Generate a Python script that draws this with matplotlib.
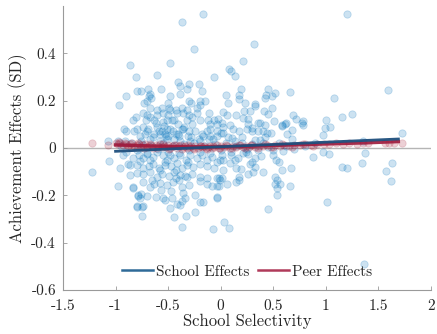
import matplotlib
matplotlib.use("Agg")
import matplotlib.pyplot as plt
from matplotlib.lines import Line2D

# ---- data ----
school_x = [
 -0.86,-0.48,-0.81,-0.61,-0.06,-0.41,-0.39,-0.30,-0.21,-0.90,-0.80,-0.69,-0.67,-0.68,-0.57,-0.48,-0.39,-0.32,-0.18,-0.30,
 -0.28,-0.20,-0.15,-0.97,-0.73,-0.70,-0.66,-0.67,-0.61,-0.56,-0.50,-0.48,-0.43,-0.37,-0.32,-0.23,-0.20,-0.74,-0.70,-0.67,
 -0.61,-0.55,-0.50,-0.42,-0.36,-0.30,-0.23,-0.11,-0.12,-0.06,-0.81,-0.83,-0.71,-0.63,-0.55,-0.51,-0.44,-0.41,-0.32,-0.27,
 -0.20,-0.10,-0.04,-0.92,-0.90,-0.82,-0.80,-0.74,-0.69,-0.61,-0.59,-0.56,-0.51,-0.48,-0.45,-0.37,-0.36,-0.30,-0.24,-0.18,
 -0.13,-0.10,-0.04,-0.72,-0.70,-0.63,-0.58,-0.53,-0.50,-0.43,-0.40,-0.31,-0.21,-0.17,-0.10,-0.07,-1.07,-0.98,-0.91,-0.77,
 -0.76,-0.67,-0.58,-0.51,-0.44,-0.39,-0.29,-0.20,-0.11,-0.04,-0.17,-0.37,-0.25,-0.76,
 -1.06,-0.96,-0.88,-0.86,-0.93,-0.83,-0.78,-0.77,-0.74,-0.70,-0.67,-0.64,-0.61,-0.55,-0.51,-0.48,-0.44,-0.39,-0.33,-0.29,
 -0.23,-0.18,-0.13,-0.08,-0.04,-0.80,-0.74,-0.68,-0.64,-0.59,-0.53,-0.47,-0.43,-0.37,-0.32,-0.26,-0.20,-0.13,-0.06,-0.86,
 -0.80,-0.74,-0.67,-0.61,-0.56,-0.49,-0.43,-0.39,-0.32,-0.27,-0.20,-0.13,-0.04,-0.98,-0.83,-0.74,-0.67,-0.63,-0.58,-0.51,
 -0.45,-0.40,-0.37,-0.30,-0.20,-0.13,-0.08,-0.01,-0.79,-0.76,-0.70,-0.62,-0.55,-0.53,-0.46,-0.42,-0.37,-0.34,-0.24,-0.20,
 -0.17,-0.04,-0.80,-0.74,-0.48,-0.39,-0.24,-0.75,-0.44,-0.33,-0.37,-0.07,-1.22,-0.83,-0.79,-0.77,-0.80,-0.75,
 0.21,0.08,0.10,0.14,0.19,0.32,0.05,0.17,0.17,0.07,0.23,0.33,0.33,0.43,0.42,0.45,0.52,0.66,1.08,0.22,
 0.28,0.41,0.49,0.02,-0.03,0.06,0.15,0.21,0.26,0.26,0.30,0.35,0.37,0.42,0.45,0.51,0.58,0.62,0.69,0.72,
 0.78,0.78,1.00,0.99,1.04,0.97,0.01,0.02,0.09,0.12,0.17,0.00,0.02,0.07,0.14,0.20,0.25,0.30,0.35,0.40,
 0.44,0.33,0.37,0.42,0.48,0.63,0.68,0.11,1.20,1.59,1.15,1.25,1.72,1.35,1.37,1.34,1.63,1.15,1.20,0.68,
 0.77,0.58,0.61,0.49,
 0.01,-0.01,0.02,0.09,0.14,0.16,0.15,0.19,0.17,0.15,0.17,0.02,-0.02,0.01,0.06,-0.04,-0.02,-0.04,0.24,0.26,
 0.21,0.33,0.28,0.33,0.31,0.26,0.40,0.50,0.53,0.59,0.55,0.58,0.67,0.52,0.54,0.52,0.56,0.54,0.66,0.54,
 0.45,0.88,0.97,1.03,1.01,0.03,0.08,0.10,0.30,0.38,1.57,1.62,1.36,
 -0.95,-0.90,-0.85,-0.80,-0.75,-0.70,-0.65,-0.60,-0.55,-0.50,-0.45,-0.40,-0.35,-0.30,-0.25,-0.20,-0.15,-0.10,-0.05,0.00,
 0.05,0.10,0.15,0.20,0.25,0.30,0.35,0.40,0.45,0.50,0.55,0.62,0.70,0.80,0.90,
 -0.62,-0.54,-0.46,-0.35,-0.27,-0.58,-0.44,-0.34,-0.64,-0.52,-0.41,-0.28,-0.57,-0.47,-0.36,-0.65,-0.53,-0.42,-0.31,-0.49,
]
school_y = [
 0.35,0.36,0.30,0.31,0.30,0.28,0.26,0.27,0.27,0.22,0.24,0.25,0.23,0.22,0.25,0.22,0.23,0.25,0.24,0.20,
 0.19,0.20,0.20,0.18,0.19,0.20,0.21,0.17,0.16,0.17,0.19,0.16,0.16,0.17,0.16,0.17,0.18,0.15,0.14,0.13,
 0.14,0.15,0.14,0.15,0.15,0.14,0.15,0.15,0.12,0.12,0.13,0.12,0.12,0.12,0.11,0.12,0.12,0.10,0.12,0.13,
 0.12,0.10,0.10,0.08,0.07,0.07,0.08,0.09,0.08,0.09,0.07,0.07,0.08,0.08,0.07,0.08,0.08,0.07,0.07,0.06,
 0.07,0.08,0.07,0.06,0.07,0.06,0.06,0.06,0.05,0.06,0.05,0.05,0.04,0.05,0.05,0.04,0.03,0.03,0.03,0.05,
 0.03,0.04,0.03,0.04,0.04,0.03,0.03,0.03,0.04,0.05,0.566,0.532,0.418,0.241,
 -0.055,-0.086,-0.069,-0.072,-0.030,-0.044,-0.030,-0.055,-0.041,-0.027,-0.052,-0.038,-0.015,-0.030,-0.049,-0.030,-0.044,-0.030,-0.049,-0.030,
 -0.044,-0.030,-0.052,-0.038,-0.058,-0.072,-0.086,-0.077,-0.066,-0.086,-0.072,-0.077,-0.094,-0.086,-0.072,-0.080,-0.066,-0.075,-0.086,-0.114,
 -0.106,-0.108,-0.100,-0.123,-0.108,-0.117,-0.128,-0.114,-0.123,-0.111,-0.123,-0.128,-0.128,-0.159,-0.165,-0.142,-0.165,-0.151,-0.148,-0.156,
 -0.142,-0.137,-0.165,-0.156,-0.139,-0.151,-0.162,-0.134,-0.199,-0.196,-0.204,-0.207,-0.213,-0.221,-0.213,-0.235,-0.224,-0.213,-0.199,-0.227,
 -0.230,-0.207,-0.246,-0.246,-0.255,-0.241,-0.269,-0.289,-0.292,-0.289,-0.334,-0.342,-0.100,-0.168,-0.201,-0.213,-0.249,-0.249,
 0.366,0.332,0.327,0.304,0.248,0.439,0.222,0.225,0.206,0.189,0.192,0.186,0.177,0.225,0.211,0.251,0.234,0.237,0.211,0.158,
 0.155,0.158,0.169,0.152,0.124,0.141,0.141,0.127,0.124,0.101,0.085,0.107,0.104,0.096,0.144,0.113,0.099,0.104,0.138,0.121,
 0.115,0.096,0.118,0.085,0.087,0.056,0.107,0.090,0.096,0.082,0.070,0.065,0.062,0.048,0.031,0.045,0.082,0.070,0.070,0.070,
 0.065,0.034,0.034,0.048,0.065,0.059,0.037,0.042,0.566,0.245,0.132,0.144,0.062,0.031,-0.020,-0.065,-0.065,-0.079,-0.085,0.076,
 0.104,0.093,0.101,0.220,
 -0.030,-0.052,-0.049,-0.063,-0.052,-0.044,-0.086,-0.089,-0.123,-0.142,-0.134,-0.094,-0.128,-0.128,-0.154,-0.162,-0.162,-0.210,-0.018,-0.024,
 -0.021,-0.044,-0.069,-0.080,-0.100,-0.111,-0.100,-0.030,-0.052,-0.013,-0.058,-0.092,-0.086,-0.123,-0.134,-0.154,-0.151,-0.167,-0.162,-0.199,
 -0.258,-0.038,-0.015,-0.027,-0.227,-0.314,-0.337,-0.030,-0.058,-0.032,-0.097,-0.140,-0.489,
 0.010,-0.015,0.020,-0.010,0.015,-0.020,0.010,-0.005,0.020,-0.015,0.010,-0.020,0.015,-0.010,0.020,-0.015,0.010,-0.020,0.015,-0.010,
 0.020,-0.015,0.010,0.020,-0.005,0.015,-0.010,0.020,0.005,-0.010,0.020,0.010,-0.005,0.010,0.020,
 0.105,0.092,0.118,0.088,0.101,-0.095,-0.102,-0.118,0.045,0.052,0.061,0.047,-0.176,-0.182,-0.190,-0.135,-0.060,-0.064,-0.058,0.170,
]

peer_x = [-1.22,-1.07,-1.00,-0.98,-0.96,-0.93,-0.90,-0.88,-0.86,-0.84,-0.82,-0.80,-0.78,-0.76,-0.74,-0.72,-0.70,-0.68,-0.66,-0.64,
          -0.62,-0.60,-0.58,-0.56,-0.54,-0.52,-0.50,-0.48,-0.46,-0.44,-0.42,-0.40,-0.38,-0.36,-0.34,-0.32,-0.30,-0.28,-0.26,-0.24,
          -0.22,-0.20,-0.18,-0.16,-0.14,-0.12,-0.10,-0.08,-0.06,-0.04,-0.02,0.00,0.03,0.06,0.09,0.12,0.15,0.18,0.21,0.24,
          0.27,0.30,0.33,0.36,0.40,0.44,0.48,0.52,0.56,0.60,0.65,0.70,0.75,0.80,0.86,0.92,0.98,1.03,1.10,1.16,
          1.22,1.30,1.35,1.40,1.56,1.60,1.65,1.72,
          -0.97,-0.91,-0.85,-0.79,-0.73,-0.67,-0.61,-0.55,-0.49,-0.43,-0.37,-0.31,-0.25,-0.19,-0.13,-0.07,-0.01,0.05,0.11,0.17,
          0.23,0.29,0.35,0.42,0.50,0.58,0.68,0.78,0.88]
peer_y = [0.020,0.014,0.020,0.015,0.022,0.012,0.018,0.010,0.016,0.020,0.008,0.014,0.018,0.006,0.012,0.016,0.004,0.010,0.014,0.002,
          0.012,0.008,0.015,0.003,0.010,0.006,0.013,0.002,0.008,0.011,0.000,0.007,0.012,0.003,0.009,-0.002,0.006,0.010,0.001,0.007,
          -0.001,0.008,0.003,0.010,-0.002,0.006,0.009,0.001,0.005,0.011,0.000,0.007,0.004,0.010,0.002,0.008,0.005,0.011,0.003,0.009,
          0.006,0.012,0.004,0.010,0.007,0.013,0.006,0.011,0.009,0.014,0.008,0.013,0.011,0.016,0.012,0.015,0.018,0.016,0.020,0.017,
          0.021,0.019,0.022,0.020,0.020,0.021,0.023,0.023,
          0.025,0.022,0.005,0.020,0.000,0.018,-0.002,0.015,-0.004,0.012,-0.003,0.011,-0.004,0.010,-0.003,0.009,-0.002,0.011,0.000,0.012,
          0.002,0.014,0.002,0.015,0.004,0.016,0.005,0.018,0.010]

school_line_x = [-1.00, 1.69]
school_line_y = [-0.014, 0.038]
peer_line_x = [-1.00, -0.60, -0.30, 0.00, 0.30, 0.60, 1.00, 1.40, 1.69]
peer_line_y = [0.013, 0.008, 0.005, 0.005, 0.008, 0.012, 0.017, 0.022, 0.027]

x_ticks = [-1.5, -1, -0.5, 0, 0.5, 1, 1.5, 2]
x_tick_labels = ["-1.5", "-1", "-0.5", "0", "0.5", "1", "1.5", "2"]
y_ticks = [-0.6, -0.4, -0.2, 0, 0.2, 0.4]
y_tick_labels = ["-0.6", "-0.4", "-0.2", "0", "0.2", "0.4"]

# ---- style ----
plt.rcParams["font.family"] = ["cmr10", "DejaVu Serif"]
plt.rcParams["mathtext.fontset"] = "cm"
plt.rcParams["axes.unicode_minus"] = False

BLUE_PT = (0.0, 0.447, 0.741)
RED_PT = (0.635, 0.078, 0.184)
BLUE_LINE = "#1e4f7d"
RED_LINE = "#9e1a3c"

fig = plt.figure(figsize=(4.37, 3.34), dpi=100)
ax = fig.add_axes([63/437, 44/334, 368/437, 284/334])

ax.axhline(0, color="#b5b5b5", lw=1.0, zorder=1)
ax.scatter(school_x, school_y, s=28, facecolor=BLUE_PT + (0.2,),
           edgecolor=BLUE_PT + (0.22,), linewidths=0.6, zorder=2)
ax.scatter(peer_x, peer_y, s=28, facecolor=RED_PT + (0.2,),
           edgecolor=RED_PT + (0.18,), linewidths=0.6, zorder=3)
ax.plot(peer_line_x, peer_line_y, color=RED_LINE, lw=2.4, alpha=0.9, zorder=4)
ax.plot(school_line_x, school_line_y, color=BLUE_LINE, lw=2.0, alpha=0.95, zorder=5)

ax.set_xlim(-1.5, 2)
ax.set_ylim(-0.6, 0.6)
ax.set_xticks(x_ticks)
ax.set_xticklabels(x_tick_labels)
ax.set_yticks(y_ticks)
ax.set_yticklabels(y_tick_labels)

for s in ["top", "right"]:
    ax.spines[s].set_visible(False)
for s in ["left", "bottom"]:
    ax.spines[s].set_color("#9a9a9a")
    ax.spines[s].set_linewidth(0.8)
ax.tick_params(direction="in", length=3, width=0.6, color="#9a9a9a",
               labelsize=11, labelcolor="#262626", pad=5)
ax.tick_params(axis="x", pad=7)

ax.set_xlabel("School Selectivity", fontsize=12, color="#262626", labelpad=0)
ax.set_ylabel("Achievement Effects (SD)", fontsize=12, color="#262626", labelpad=3)

handles = [Line2D([0], [0], color="#2f6a98", lw=1.8),
           Line2D([0], [0], color="#b03a5a", lw=1.8)]
ax.legend(handles, ["School Effects", "Peer Effects"], loc="lower center",
          bbox_to_anchor=(0.5, -0.008), ncol=2, frameon=False, fontsize=11,
          handlelength=2.0, handletextpad=0.2, columnspacing=0.6,
          labelcolor="#262626")

fig.savefig("out.png", dpi=100)
